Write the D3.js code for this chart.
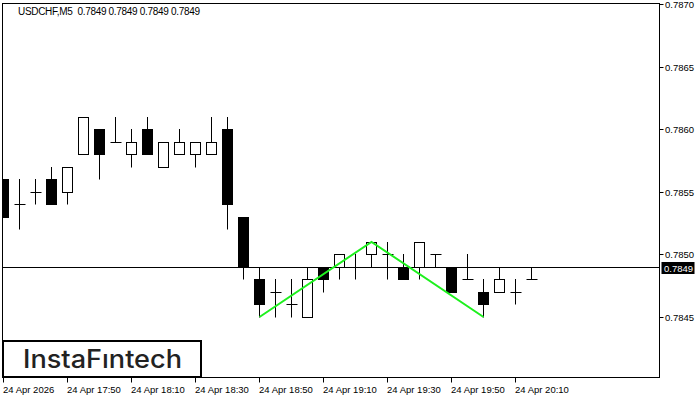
<!DOCTYPE html>
<html>
<head>
<meta charset="utf-8">
<script src="https://cdn.jsdelivr.net/npm/d3@7"></script>
<style>
  html, body { margin: 0; padding: 0; background: #fff; }
  svg { display: block; }
</style>
</head>
<body>
<svg id="chart" width="700" height="400"></svg>
<script>
// ---- data ----
const times = ["17:30","17:35","17:40","17:45","17:50","17:55","18:00","18:05","18:10","18:15","18:20","18:25","18:30","18:35","18:40","18:45","18:50","18:55","19:00","19:05","19:10","19:15","19:20","19:25","19:30","19:35","19:40","19:45","19:50","19:55","20:00","20:05","20:10","20:15"];
const open  = [0.7856,0.7854,0.7855,0.7856,0.7855,0.7858,0.7860,0.7859,0.7858,0.7860,0.7857,0.7858,0.7858,0.7858,0.7860,0.7853,0.7848,0.7847,0.7846,0.7845,0.7849,0.7849,0.7849,0.7850,0.7850,0.7849,0.7849,0.7850,0.7849,0.7848,0.7847,0.7847,0.7847,0.7848];
const high  = [0.7856,0.7856,0.7856,0.7857,0.7857,0.7861,0.7860,0.7861,0.7860,0.7861,0.7859,0.7860,0.7859,0.7861,0.7861,0.7853,0.7849,0.7848,0.7848,0.7849,0.7849,0.7850,0.7850,0.7851,0.7851,0.7850,0.7851,0.7850,0.7849,0.7850,0.7848,0.7849,0.7848,0.7849];
const low   = [0.7853,0.7852,0.7854,0.7854,0.7854,0.7858,0.7856,0.7859,0.7857,0.7858,0.7857,0.7858,0.7857,0.7858,0.7852,0.7848,0.7845,0.7845,0.7845,0.7845,0.7847,0.7848,0.7848,0.7849,0.7848,0.7848,0.7848,0.7849,0.7847,0.7848,0.7845,0.7847,0.7846,0.7848];
const close = [0.7853,0.7854,0.7855,0.7854,0.7857,0.7861,0.7858,0.7859,0.7859,0.7858,0.7859,0.7859,0.7859,0.7859,0.7854,0.7849,0.7846,0.7847,0.7846,0.7848,0.7848,0.7850,0.7849,0.7851,0.7850,0.7848,0.7851,0.7850,0.7847,0.7848,0.7846,0.7848,0.7847,0.7848];
const xTickIdx    = [0,4,8,12,16,20,24,28,32];
const xTickLabels = ["24 Apr 2026","24 Apr 17:50","24 Apr 18:10","24 Apr 18:30","24 Apr 18:50","24 Apr 19:10","24 Apr 19:30","24 Apr 19:50","24 Apr 20:10"];
const yTicks = [0.7845,0.7850,0.7855,0.7860,0.7865,0.7870];
const currentPrice = 0.7849;
const patternIdx   = [16,23,30];
const patternPrice = [0.7845,0.7851,0.7845];
const title = "USDCHF,M5  0.7849 0.7849 0.7849 0.7849";

// ---- layout ----
const svg = d3.select("#chart");
const L = 2.5, R = 659.5, T = 3.5, B = 377.5;
const x = d3.scaleLinear().domain([0, 33]).range([3.5, 531.5]);
const y = d3.scaleLinear().domain([0.7845, 0.7870]).range([317, 4]);
const font = "'Liberation Sans', Arial, sans-serif";

svg.append("rect").attr("width",700).attr("height",400).attr("fill","#fff");

svg.append("defs").append("clipPath").attr("id","plot")
  .append("rect").attr("x",L).attr("y",T).attr("width",R-L).attr("height",B-T);

const plot = svg.append("g").attr("clip-path","url(#plot)");

// current price line
plot.append("line")
  .attr("x1",L).attr("x2",R)
  .attr("y1",Math.round(y(currentPrice))+0.5).attr("y2",Math.round(y(currentPrice))+0.5)
  .attr("stroke","#000").attr("stroke-width",1);

const candles = d3.range(times.length).map(i => ({i, o:open[i], h:high[i], l:low[i], c:close[i]}));
const px = v => Math.round(y(v));
const cx = i => Math.round(x(i) - 0.5) + 0.5;

const g = plot.append("g");
candles.forEach(d => {
  const xc = cx(d.i);
  const top = px(Math.max(d.o, d.c)), bot = px(Math.min(d.o, d.c));
  g.append("line").attr("x1",xc).attr("x2",xc)
    .attr("y1",px(d.h)).attr("y2",px(d.l)+0.5)
    .attr("stroke","#000").attr("stroke-width",1);
  if (d.o === d.c) {
    g.append("line").attr("x1",xc-5).attr("x2",xc+6)
      .attr("y1",top+0.5).attr("y2",top+0.5)
      .attr("stroke","#000").attr("stroke-width",1);
  } else {
    g.append("rect")
      .attr("x",xc-5).attr("y",top+0.5)
      .attr("width",10).attr("height",bot-top)
      .attr("fill", d.c < d.o ? "#000" : "#fff")
      .attr("stroke","#000").attr("stroke-width",1);
  }
});

// pattern line
plot.append("path")
  .datum(patternIdx.map((k,j)=>[x(k), y(patternPrice[j])]))
  .attr("d", d3.line())
  .attr("fill","none").attr("stroke","#1ef01e").attr("stroke-width",2);

// frame
svg.append("rect").attr("x",L).attr("y",T).attr("width",R-L).attr("height",B-T)
  .attr("fill","none").attr("stroke","#000").attr("stroke-width",1);

// title
svg.append("text").attr("x",18).attr("y",14.5)
  .attr("font-family",font).attr("font-size","10px").attr("fill","#000")
  .attr("xml:space","preserve").style("white-space","pre")
  .attr("textLength",182).attr("lengthAdjust","spacing")
  .text(title);

// y axis
const ya = svg.append("g");
yTicks.forEach(t => {
  const yy = Math.round(y(t)) + 0.5;
  ya.append("line").attr("x1",R).attr("x2",R+4).attr("y1",yy).attr("y2",yy).attr("stroke","#000");
  ya.append("text").attr("x",665).attr("y",yy+3.5)
    .attr("font-family",font).attr("font-size","9.5px").attr("fill","#000")
    .text(d3.format(".4f")(t));
});
// current price label
const cy = Math.round(y(currentPrice));
ya.append("rect").attr("x",R+2).attr("y",cy-5).attr("width",33).attr("height",12).attr("fill","#000");
ya.append("text").attr("x",664).attr("y",cy+4.5)
  .attr("font-family",font).attr("font-size","9.5px").attr("fill","#fff")
  .text(d3.format(".4f")(currentPrice));

// x axis
const xa = svg.append("g");
xTickIdx.forEach((k,j) => {
  const xx = cx(k);
  xa.append("line").attr("x1",xx).attr("x2",xx).attr("y1",B).attr("y2",B+5).attr("stroke","#000");
  xa.append("text").attr("x",xx-0.5).attr("y",392.5)
    .attr("font-family",font).attr("font-size","9.5px").attr("fill","#000")
    .text(xTickLabels[j]);
});

// logo box
svg.append("rect").attr("x",3).attr("y",341).attr("width",198).attr("height",36)
  .attr("fill","#fff").attr("stroke","#000").attr("stroke-width",2);
svg.append("text").attr("x",23).attr("y",368)
  .attr("font-family","Inter, 'Open Sans', sans-serif").attr("font-weight",500)
  .attr("font-size","25px").attr("fill","#222")
  .attr("textLength",159).attr("lengthAdjust","spacingAndGlyphs")
  .text("InstaF\u0131ntech");
</script>
</body>
</html>
